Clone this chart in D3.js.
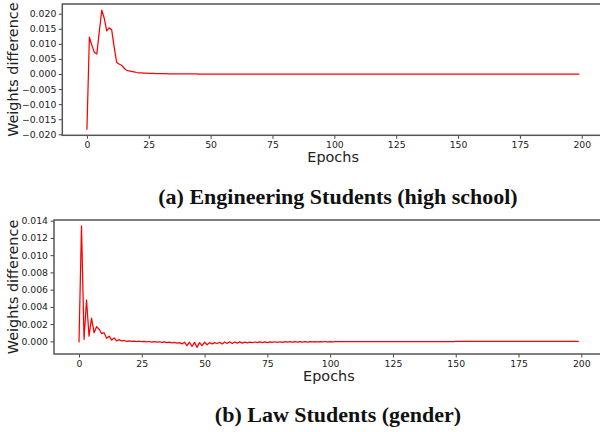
<!DOCTYPE html>
<html lang="en">
<head>
  <meta charset="UTF-8">
  <title>Weights difference per epoch</title>
  <script src="https://d3js.org/d3.v7.min.js"></script>
  <style>
    body {
      margin: 0;
      background: #ffffff;
    }
    svg {
      display: block;
    }
    .tick text {
      font-family: "DejaVu Sans", sans-serif;
      font-size: 9.3px;
      fill: #222;
    }
    .tick line {
      stroke: #444;
      stroke-width: 1;
    }
    .axis-title {
      font-family: "DejaVu Sans", sans-serif;
      font-size: 14.4px;
      fill: #222;
    }
    .caption {
      font-family: "Liberation Serif", serif;
      font-weight: bold;
      font-size: 22px;
      fill: #111;
    }
  </style>
</head>
<body>
  <svg width="600" height="432"></svg>

  <script>
    // epochs 0..199
    const epochs = d3.range(200);
    const xTicks = [0, 25, 50, 75, 100, 125, 150, 175, 200];

    // (a) engineering students, sensitive attribute: high school
    const engDiff = [
      -0.0185, 0.0122, 0.0095, 0.0072, 0.0066, 0.0140, 0.0212, 0.0185, 0.0143, 0.0153,
      0.0147, 0.0090, 0.0039, 0.0033, 0.0029, 0.0020, 0.0012, 0.0010, 0.0009, 0.0007,
      0.0005, 0.0004, 0.0004, 0.0003, 0.0003, 0.0002, 0.0002, 0.0002, 0.00015, 0.00015,
      0.0001, 0.0001, 0.0001, 0.00008, 0.00007, 0.00006, 0.00005, 0.00004, 0.00003, 0.00002,
      0.00002, 0.00001, 0.00001, 0.00001, 0.00001, 0, 0, 0, 0, 0,
      0, 0, 0, 0, 0, 0, 0, 0, 0, 0,
      0, 0, 0, 0, 0, 0, 0, 0, 0, 0,
      0, 0, 0, 0, 0, 0, 0, 0, 0, 0,
      0, 0, 0, 0, 0, 0, 0, 0, 0, 0,
      0, 0, 0, 0, 0, 0, 0, 0, 0, 0,
      0, 0, 0, 0, 0, 0, 0, 0, 0, 0,
      0, 0, 0, 0, 0, 0, 0, 0, 0, 0,
      0, 0, 0, 0, 0, 0, 0, 0, 0, 0,
      0, 0, 0, 0, 0, 0, 0, 0, 0, 0,
      0, 0, 0, 0, 0, 0, 0, 0, 0, 0,
      0, 0, 0, 0, 0, 0, 0, 0, 0, 0,
      0, 0, 0, 0, 0, 0, 0, 0, 0, 0,
      0, 0, 0, 0, 0, 0, 0, 0, 0, 0,
      0, 0, 0, 0, 0, 0, 0, 0, 0, 0,
      0, 0, 0, 0, 0, 0, 0, 0, 0, 0
    ];
    const engTicks = [-0.020, -0.015, -0.010, -0.005, 0.000, 0.005, 0.010, 0.015, 0.020];

    // (b) law students, sensitive attribute: gender
    const lawDiff = [
      -0.00012, 0.01339, 0.00023, 0.0048, 0.0006, 0.0027, 0.0010, 0.0017, 0.0014, 0.0009,
      0.0010, 0.00035, 0.0006, 0.00015, 0.0004, 0.00005, 0.0002, 0.00004, 0.0001, 0.0000,
      0.00005, -0.00001, 0.00002, -0.00002, 0.00001, -0.00003, 0.0, -0.00006, -0.00002, -0.00008,
      -0.00003, -0.0001, -0.00005, -0.00013, -0.00006, -0.00015, -0.0001, -0.00018, -0.00012, -0.0002,
      -0.00015, -0.0003, -0.0001, -0.0005, -0.0001, -0.0006, -0.00012, -0.0007, -0.00015, -0.0005,
      -0.0001, -0.0004, -0.00015, -0.0003, -0.00015, -0.00025, -0.0001, -0.0003, -0.00008, -0.00025,
      -0.00005, -0.00025, -0.00008, -0.0002, -0.00007, -0.0002, -0.0001, -0.00018, -0.0001, -0.00016,
      -0.00008, -0.00016, -0.00007, -0.00015, -0.00006, -0.00014, -0.00006, -0.00013, -0.00005, -0.00012,
      -0.00005, -0.00011, -0.00004, -0.0001, -0.00004, -0.0001, -0.00004, -0.00009, -0.00003, -0.00008,
      -0.00003, -0.00008, -0.00003, -0.00007, -0.00003, -0.00006, -0.00003, -0.00006, -0.00002, -0.00005,
      -0.00002, -0.00005, -0.00002, -0.00004, -0.00002, -0.00004, -0.00002, -0.00004, -0.00002, -0.00003,
      -0.00002, -0.00003, -0.00002, -0.00003, -0.00002, -0.00003, -0.00002, -0.00003, -0.00002, -0.00003,
      -0.00002, -0.00003, -0.00002, -0.00003, -0.00002, -0.00003, -0.00002, -0.00003, -0.00002, -0.00003,
      -0.00002, -0.00003, -0.00002, -0.00003, -0.00002, -0.00003, -0.00002, -0.00003, -0.00002, -0.00003,
      -0.00002, -0.00003, -0.00002, -0.00003, -0.00002, -0.00003, -0.00002, -0.00003, -0.00002, -0.00003,
      -0.00001, -0.00001, -0.00001, -0.00001, -0.00001, -0.00001, -0.00001, -0.00001, -0.00001, -0.00001,
      -0.00001, -0.00001, -0.00001, -0.00001, -0.00001, -0.00001, -0.00001, -0.00001, -0.00001, -0.00001,
      -0.00001, -0.00001, -0.00001, -0.00001, -0.00001, -0.00001, -0.00001, -0.00001, -0.00001, -0.00001,
      -0.00001, -0.00001, -0.00001, -0.00001, -0.00001, -0.00001, -0.00001, -0.00001, -0.00001, -0.00001,
      -0.00001, -0.00001, -0.00001, -0.00001, -0.00001, -0.00001, -0.00001, -0.00001, -0.00001, -0.00001
    ];
    const lawTicks = [0.000, 0.002, 0.004, 0.006, 0.008, 0.010, 0.012, 0.014];

    const svg = d3.select("svg");

    function drawPanel(p) {
      const x = d3.scaleLinear().domain([-9.95, 208.95]).range([p.left, p.right]);
      const y = d3.scaleLinear().domain(p.yDomain).range([p.bottom, p.top]);
      const g = svg.append("g");

      g.append("g")
        .attr("transform", `translate(0,${p.bottom})`)
        .call(d3.axisBottom(x).tickValues(xTicks).tickFormat(d3.format("d"))
          .tickSize(3.5).tickPadding(3))
        .call(a => a.select(".domain").remove());

      g.append("g")
        .attr("transform", `translate(${p.left},0)`)
        .call(d3.axisLeft(y).tickValues(p.yTicks).tickFormat(d3.format(".3f"))
          .tickSize(3.5).tickPadding(2.5))
        .call(a => a.select(".domain").remove());

      // axes frame
      g.append("rect")
        .attr("x", p.left).attr("y", p.top)
        .attr("width", p.right - p.left).attr("height", p.bottom - p.top)
        .attr("fill", "none")
        .attr("stroke", "#555")
        .attr("stroke-width", 1.5);

      const line = d3.line()
        .x((d, i) => x(epochs[i]))
        .y(d => y(d));

      g.append("path")
        .datum(p.values)
        .attr("fill", "none")
        .attr("stroke", "#ff0000")
        .attr("stroke-width", 1.25)
        .attr("stroke-linejoin", "round")
        .attr("d", line);

      g.append("text")
        .attr("class", "axis-title")
        .attr("x", (p.left + p.right) / 2)
        .attr("y", p.bottom + 27)
        .attr("text-anchor", "middle")
        .text("Epochs");

      g.append("text")
        .attr("class", "axis-title")
        .attr("transform", `translate(17.5,${(p.top + p.bottom) / 2}) rotate(-90)`)
        .attr("text-anchor", "middle")
        .text("Weights difference");

      g.append("text")
        .attr("class", "caption")
        .attr("x", 338)
        .attr("y", p.captionY)
        .attr("text-anchor", "middle")
        .text(p.caption);
    }

    drawPanel({
      values: engDiff, yTicks: engTicks, yDomain: [-0.02033, 0.02322],
      left: 62.3, right: 603.9, top: 4, bottom: 135.3,
      captionY: 204, caption: "(a) Engineering Students (high school)"
    });

    drawPanel({
      values: lawDiff, yTicks: lawTicks, yDomain: [-0.00147, 0.01408],
      left: 54, right: 603.8, top: 220, bottom: 354,
      captionY: 422, caption: "(b) Law Students (gender)"
    });
  </script>
</body>
</html>
